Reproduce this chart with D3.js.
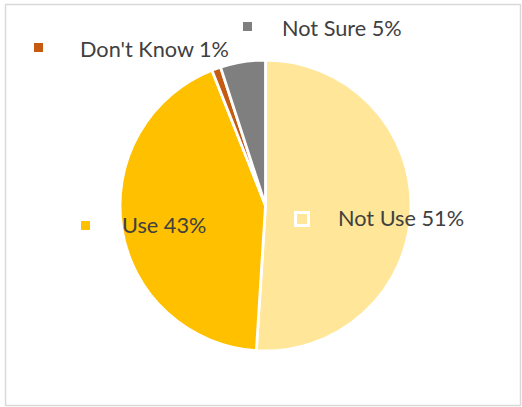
<!DOCTYPE html>
<html><head><meta charset="utf-8">
<script src="https://cdn.jsdelivr.net/npm/d3@7"></script>
<style>body{margin:0;background:#fff}svg{display:block}</style>
</head><body>
<script>
const categories = ["Not Use", "Use", "Don't Know", "Not Sure"];
const values = [51, 43, 1, 5];
const colors = ["#FFE699", "#FFC000", "#C55A11", "#7F7F7F"];
const labelTexts = ["Not Use 51%", "Use 43%", "Don't Know 1%", "Not Sure 5%"];

const W = 522, H = 407;
const svg = d3.select("body").append("svg").attr("width", W).attr("height", H);
svg.append("rect").attr("x", 5.5).attr("y", 4.5).attr("width", 515).attr("height", 401)
  .attr("fill", "#fff").attr("stroke", "#D9D9D9").attr("stroke-width", 1.5);

const cx = 265.5, cy = 205.5, r = 145.5;
const pie = d3.pie().sort(null).value(d => d)(values);
const arc = d3.arc().innerRadius(0).outerRadius(r);
const g = svg.append("g").attr("transform", `translate(${cx},${cy})`);
g.selectAll("path").data(pie).join("path")
  .attr("d", arc).attr("fill", (d, i) => colors[i])
  .attr("stroke", "#fff").attr("stroke-width", 2.8).attr("stroke-linejoin", "round");

// label layout (marker square + text), in page coordinates
const layout = [
  {mx: 294, my: 211, ms: 16, tx: 338, ty: 226, inner: true},
  {mx: 81, my: 221, ms: 9, tx: 122, ty: 233},
  {mx: 34, my: 43, ms: 9, tx: 80, ty: 57},
  {mx: 243, my: 22, ms: 9, tx: 282, ty: 36}
];
const lg = svg.append("g");
categories.forEach((c, i) => {
  const L = layout[i];
  if (L.inner) {
    lg.append("rect").attr("x", L.mx + 1.5).attr("y", L.my + 1.5).attr("width", L.ms - 3).attr("height", L.ms - 3)
      .attr("fill", colors[i]).attr("stroke", "#fff").attr("stroke-width", 3);
  } else {
    lg.append("rect").attr("x", L.mx).attr("y", L.my).attr("width", L.ms).attr("height", L.ms).attr("fill", colors[i]);
  }
  lg.append("text").attr("x", L.tx).attr("y", L.ty).text(labelTexts[i])
    .attr("font-family", "Lato, 'Open Sans', sans-serif").attr("font-size", 21.7).attr("fill", "#404040");
});
</script>
</body></html>
